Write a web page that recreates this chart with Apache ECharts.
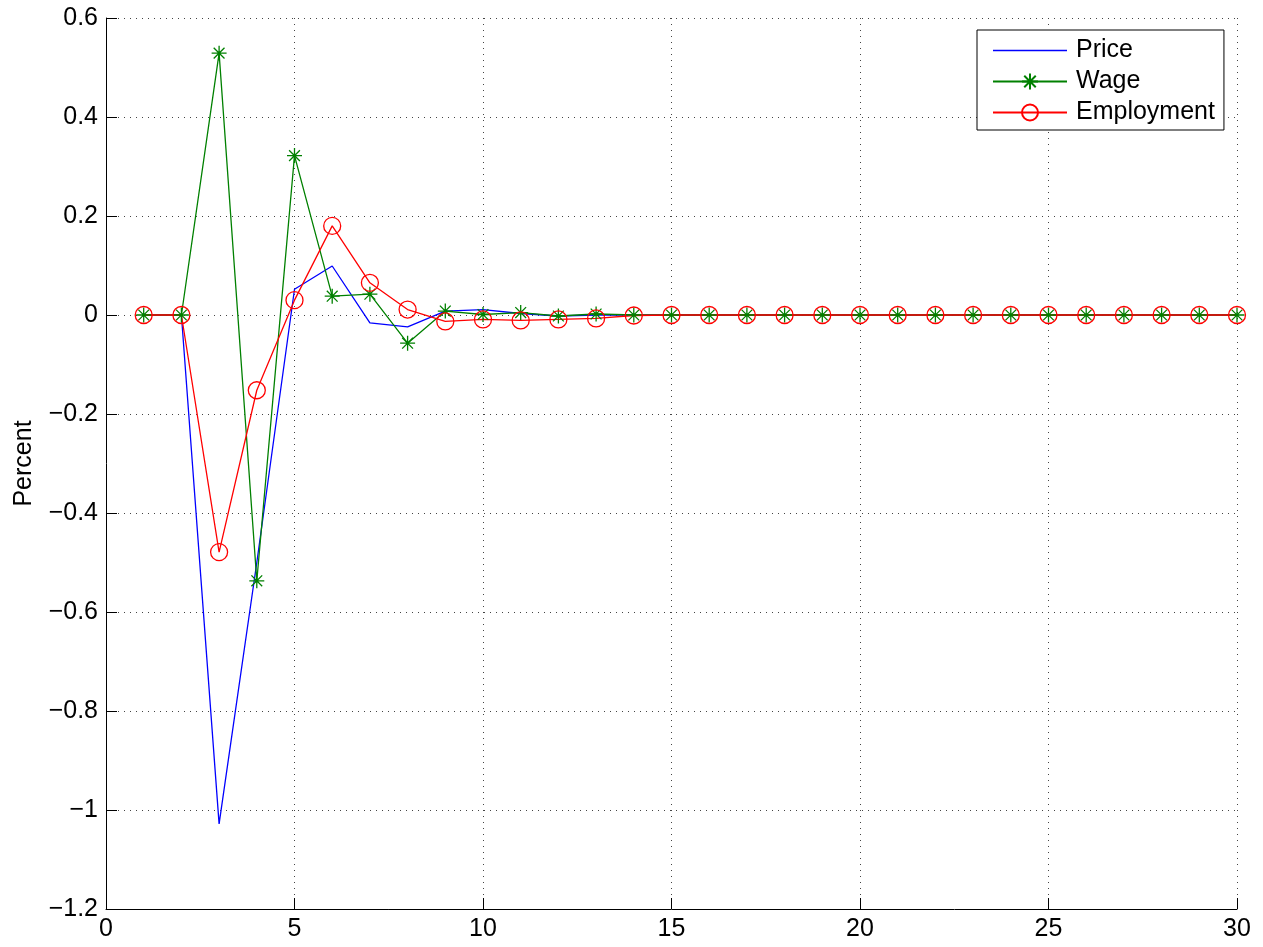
<!DOCTYPE html>
<html>
<head>
<meta charset="utf-8">
<script src="https://cdn.jsdelivr.net/npm/echarts@6/dist/echarts.min.js"></script>
<style>
  html, body { margin: 0; padding: 0; background: #fff; }
  #ct { width: 1263px; height: 947px; }
</style>
</head>
<body>
<div id="ct"></div>
<script>
// periods 1..30
const periods = [1, 2, 3, 4, 5, 6, 7, 8, 9, 10, 11, 12, 13, 14, 15,
  16, 17, 18, 19, 20, 21, 22, 23, 24, 25, 26, 27, 28, 29, 30];

const price = [0, 0, -1.028, -0.50, 0.052, 0.099, -0.016, -0.024, 0.008, 0.011,
  0.003, -0.002, 0, 0, 0, 0, 0, 0, 0, 0, 0, 0, 0, 0, 0, 0, 0, 0, 0, 0];
const wage = [0, 0, 0.529, -0.537, 0.322, 0.038, 0.042, -0.057, 0.008, 0.001,
  0.005, -0.002, 0.002, 0, 0, 0, 0, 0, 0, 0, 0, 0, 0, 0, 0, 0, 0, 0, 0, 0];
const employment = [0, 0, -0.479, -0.152, 0.030, 0.180, 0.065, 0.011, -0.013, -0.009,
  -0.011, -0.009, -0.007, -0.001, 0, 0, 0, 0, 0, 0, 0, 0, 0, 0, 0, 0, 0, 0, 0, 0];

const seriesNames = ["Price", "Wage", "Employment"];

const pairs = arr => periods.map((p, i) => [p, arr[i]]);
const fmt = v => String(v).replace("-", "\u2212");

const font = "Liberation Sans, Arial, Helvetica, sans-serif";
const star = "path://M0,-1L0,1M-1,0L1,0M-0.72,-0.72L0.72,0.72M-0.72,0.72L0.72,-0.72";
const dots = { color: "#444", type: [1, 5], width: 1 };

const chart = echarts.init(document.getElementById("ct"));
const option = {
  animation: false,
  backgroundColor: "#fff",
  textStyle: { fontFamily: font },
  grid: { left: 106, right: 26, top: 18, bottom: 38 },
  legend: {
    orient: "vertical",
    left: 977,
    top: 30,
    padding: [8, 9, 5, 15],
    itemWidth: 74,
    itemHeight: 20,
    itemGap: 6,
    backgroundColor: "#fff",
    borderColor: "#000",
    borderWidth: 1,
    borderRadius: 0,
    textStyle: { fontSize: 25, color: "#000", fontFamily: font, padding: [0, 0, 0, 4] },
    data: [
      { name: seriesNames[0], icon: "path://M0,0H74V1.3H0Z", itemStyle: { color: "#0000ff" } },
      seriesNames[1],
      seriesNames[2]
    ]
  },
  xAxis: {
    type: "value",
    min: 0,
    max: 30,
    interval: 5,
    axisLine: { onZero: false, lineStyle: { color: "#000", width: 1 } },
    axisTick: { inside: true, length: 11, lineStyle: { color: "#000" } },
    axisLabel: { fontSize: 25, color: "#000", margin: 8, fontFamily: font },
    splitLine: { show: true, lineStyle: dots }
  },
  yAxis: {
    type: "value",
    min: -1.2,
    max: 0.6,
    interval: 0.2,
    name: "Percent",
    nameLocation: "middle",
    nameGap: 69,
    nameTextStyle: { fontSize: 25, color: "#000", fontFamily: font },
    axisLine: { show: true, onZero: false, lineStyle: { color: "#000", width: 1 } },
    axisTick: { show: true, inside: true, length: 11, lineStyle: { color: "#000" } },
    axisLabel: { fontSize: 25, color: "#000", margin: 8, fontFamily: font,
      formatter: v => fmt(Math.round(v * 10) / 10) },
    splitLine: { show: true, lineStyle: dots }
  },
  series: [
    {
      name: "Price",
      type: "line",
      data: pairs(price),
      symbol: "none",
      color: "#0000ff",
      lineStyle: { color: "#0000ff", width: 1.3 }
    },
    {
      name: "Wage",
      type: "line",
      data: pairs(wage),
      symbol: star,
      symbolSize: 15,
      color: "#008000",
      lineStyle: { color: "#008000", width: 1.3 },
      itemStyle: { color: "#008000", borderColor: "#008000", borderWidth: 1.3 }
    },
    {
      name: "Employment",
      type: "line",
      data: pairs(employment),
      symbol: "circle",
      symbolSize: 17,
      color: "#ff0000",
      lineStyle: { color: "#ff0000", width: 1.3 },
      itemStyle: { color: "rgba(0,0,0,0)", borderColor: "#ff0000", borderWidth: 1.3 }
    }
  ]
};
chart.setOption(option);
</script>
</body>
</html>
